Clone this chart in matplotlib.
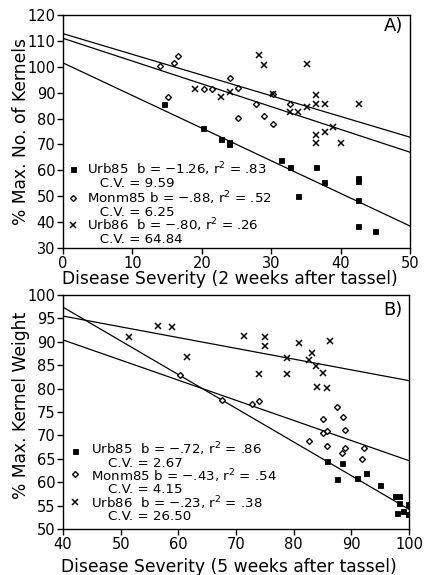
import numpy as np
import matplotlib
matplotlib.use("Agg")
import matplotlib.pyplot as plt

plt.rcParams['font.family'] = ['DejaVu Sans']
plt.rcParams['mathtext.fontset'] = 'dejavusans'

# ---- panel A: 2 weeks after tassel ----
a_urb85_x = [14.5, 20.2, 22.7, 23.9, 23.9, 31.4, 32.7, 36.4, 37.6, 33.9, 42.5, 42.5, 42.5, 42.5, 45.0]
a_urb85_y = [85.5, 76.4, 72.0, 71.0, 70.0, 64.0, 61.2, 61.4, 55.4, 50.1, 56.9, 56.0, 48.5, 38.4, 36.6]

a_monm85_x = [14.0, 15.2, 16.0, 16.5, 20.3, 21.5, 24.0, 25.2, 25.2, 27.8, 29.0, 30.3, 30.3, 32.7]
a_monm85_y = [100.4, 88.3, 101.5, 104.2, 91.3, 91.3, 95.7, 91.9, 80.3, 85.5, 81.0, 89.4, 77.8, 85.5]

a_urb86_x = [19.0, 22.7, 24.0, 28.2, 29.0, 30.3, 32.7, 33.9, 35.2, 35.2, 36.5, 36.5, 37.7,
             36.5, 36.5, 37.7, 38.9, 40.1, 42.6]
a_urb86_y = [91.3, 88.3, 90.1, 104.4, 100.7, 89.4, 82.4, 82.4, 101.2, 84.5, 89.1, 85.7, 85.7,
             73.6, 70.7, 74.7, 76.9, 70.4, 85.5]

# regression lines (intercept, slope) as printed /
a_fits = {'Urb85': (101.5, -1.26), 'Monm85': (111.0, -0.88), 'Urb86': (112.8, -0.80)}
a_stats = [('Urb85', '−1.26', '.83', '9.59'),
           ('Monm85', '−.88', '.52', '6.25'),
           ('Urb86', '−.80', '.26', '64.84')]

# ---- panel B: 5 weeks after tassel ----
b_urb85_x = [85.7, 88.4, 87.6, 90.9, 92.6, 95.0, 97.5, 98.2, 98.3, 99.8, 97.9, 99.0, 99.8, 100.0]
b_urb85_y = [64.5, 64.2, 60.6, 60.8, 61.9, 59.3, 57.0, 57.0, 55.5, 55.4, 53.4, 53.9, 53.1, 55.1]

b_monm85_x = [60.3, 67.6, 72.7, 74.0, 87.6, 88.6, 85.1, 85.1, 85.7, 88.9, 82.7, 85.7, 88.9, 88.3, 92.2, 91.8]
b_monm85_y = [83.0, 77.5, 76.8, 77.4, 76.0, 73.9, 73.4, 70.6, 70.9, 71.1, 68.7, 67.8, 67.4, 66.3, 67.4, 65.0]

b_urb86_x = [51.4, 56.4, 58.9, 61.5, 71.4, 74.0, 75.1, 75.1, 78.9, 78.9, 80.9, 82.6, 83.1,
             83.9, 84.0, 85.1, 85.7, 86.3]
b_urb86_y = [91.1, 93.3, 93.2, 86.8, 91.3, 83.2, 91.0, 89.2, 86.6, 83.1, 89.7, 86.1, 87.7,
             84.8, 80.4, 83.4, 80.2, 90.2]

b_fits = {'Urb85': (126.2, -0.72), 'Monm85': (107.6, -0.43), 'Urb86': (104.7, -0.23)}
b_stats = [('Urb85', '−.72', '.86', '2.67'),
           ('Monm85', '−.43', '.54', '4.15'),
           ('Urb86', '−.23', '.38', '26.50')]

W, H = 424, 575
fig = plt.figure(figsize=(W / 100, H / 100), dpi=100)


def px_axes(left, top, right, bottom):
    return fig.add_axes([left / W, 1 - bottom / H, (right - left) / W, (bottom - top) / H])


ax1 = px_axes(63, 15, 410, 248)
ax2 = px_axes(63, 295, 409, 529)

styles = {
    'Urb85': dict(marker='s', ms=3.6, mfc='black', mec='black', mew=0.6),
    'Monm85': dict(marker='D', ms=3.0, mfc='white', mec='black', mew=1.0),
    'Urb86': dict(marker='x', ms=4.2, mec='black', mew=1.1),
}


def draw_panel(ax, data, fits, xlim, ylim, xticks, yticks):
    for name, (xs, ys) in data.items():
        ax.plot(xs, ys, ls='none', zorder=3, **styles[name])
    xx = np.array(xlim, dtype=float)
    for name, (a, b) in fits.items():
        ax.plot(xx, a + b * xx, color='black', lw=0.9, zorder=2)
    ax.set_xlim(*xlim)
    ax.set_ylim(*ylim)
    ax.set_xticks(xticks)
    ax.set_yticks(yticks)
    ax.tick_params(direction='out', length=4, width=1, labelsize=10.5, pad=1.5)
    for sp in ax.spines.values():
        sp.set_linewidth(1)


def draw_legend(ax, stats, mx, tx, indent, rows, nudge, ls):
    # each entry is one two-line text: stats line, then indented C.V. line
    for i, (name, b, r2, cv) in enumerate(stats):
        y1, y2 = rows[2 * i], rows[2 * i + 1]
        ax.plot([mx], [y1 + 0.005], transform=ax.transAxes, ls='none', clip_on=False,
                **styles[name])
        pad = '  ' if name != 'Monm85' else ' '
        txt = f'{name}{pad}b = {b}, r$^{{2}}$ = {r2}\n{indent}C.V. = {cv}'
        ax.text(tx, (y1 + y2) / 2 + nudge[i], txt, transform=ax.transAxes, fontsize=9.6,
                va='center', ha='left', linespacing=ls)


draw_panel(ax1,
           {'Urb85': (a_urb85_x, a_urb85_y), 'Monm85': (a_monm85_x, a_monm85_y),
            'Urb86': (a_urb86_x, a_urb86_y)},
           a_fits, (0, 50), (30, 120), np.arange(0, 51, 10), np.arange(30, 121, 10))
draw_legend(ax1, a_stats, 0.028, 0.070, '   ', [0.335, 0.281, 0.209, 0.159, 0.094, 0.039],
            [0.004, 0.004, 0.004], 0.88)
ax1.set_xlabel('Disease Severity (2 weeks after tassel)', fontsize=12.3)
ax1.set_ylabel('% Max. No. of Kernels', fontsize=12.3)
ax1.xaxis.set_label_coords(0.48, -0.096)
ax1.yaxis.set_label_coords(-0.095, 0.5)
ax1.text(0.98, 0.951, 'A)', transform=ax1.transAxes, fontsize=13, ha='right', va='center')

draw_panel(ax2,
           {'Urb85': (b_urb85_x, b_urb85_y), 'Monm85': (b_monm85_x, b_monm85_y),
            'Urb86': (b_urb86_x, b_urb86_y)},
           b_fits, (40, 100), (50, 100), np.arange(40, 101, 10), np.arange(50, 101, 5))
draw_legend(ax2, b_stats, 0.035, 0.080, '    ', [0.330, 0.283, 0.231, 0.174, 0.112, 0.057],
            [0.009, 0.0, 0.002], 0.84)
ax2.set_xlabel('Disease Severity (5 weeks after tassel)', fontsize=12.3)
ax2.set_ylabel('% Max. Kernel Weight', fontsize=12.3)
ax2.xaxis.set_label_coords(0.48, -0.123)
ax2.yaxis.set_label_coords(-0.095, 0.53)
ax2.text(0.98, 0.936, 'B)', transform=ax2.transAxes, fontsize=13, ha='right', va='center')

fig.savefig('out.png', dpi=100)
